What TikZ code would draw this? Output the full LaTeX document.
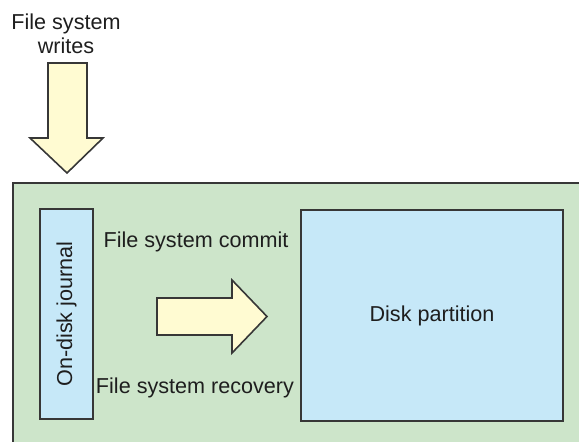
\documentclass[tikz,border=0pt]{standalone}
\usepackage{fontspec}
\setmainfont{Liberation Sans}
\usepackage{tikz}

\definecolor{fsgreen}{RGB}{205,229,202}
\definecolor{fsblue}{RGB}{198,232,248}
\definecolor{fsyellow}{RGB}{255,251,210}
\definecolor{fsline}{RGB}{55,55,55}
\definecolor{fstext}{RGB}{30,30,30}

\begin{document}
\begin{tikzpicture}[x=0.5pt,y=-0.5pt,
  every node/.style={inner sep=0pt,text=fstext,font=\fontsize{10.8}{12}\selectfont},
  area/.style={draw=fsline,line width=0.9pt,fill=fsgreen},
  part/.style={draw=fsline,line width=0.9pt,fill=fsblue},
  blockarrow/.style={draw=fsline,line width=0.8pt,fill=fsyellow,line join=miter}]
\useasboundingbox (0,0) rectangle (579,441);
\clip (0,0) rectangle (579,441);
% surrounding file system area
\draw [area] (13,183) rectangle (620,480);
% writes coming in from above
\node[align=center] (writes) at (66,34) {File system\\writes};
\draw [blockarrow] (48,63) -- (87,63) -- (87,138) -- (103,138) -- (67,173)
  -- (30,138) -- (48,138) -- cycle;
% journal and partition
\node[part,rotate=90,minimum width=105pt,minimum height=26.5pt] (journal) at (66.5,314) {On-disk journal};
\node[part,minimum width=131pt,minimum height=105.5pt] (partition) at (432,315.5) {Disk partition};
% commit / recovery
\node (commit) at (196,242) {File system commit};
\node (recovery) at (195,388) {File system recovery};
\draw [blockarrow] (157,298) -- (232,298) -- (232,280) -- (267,316.5) -- (232,353)
  -- (232,335) -- (157,335) -- cycle;
\end{tikzpicture}
\end{document}
